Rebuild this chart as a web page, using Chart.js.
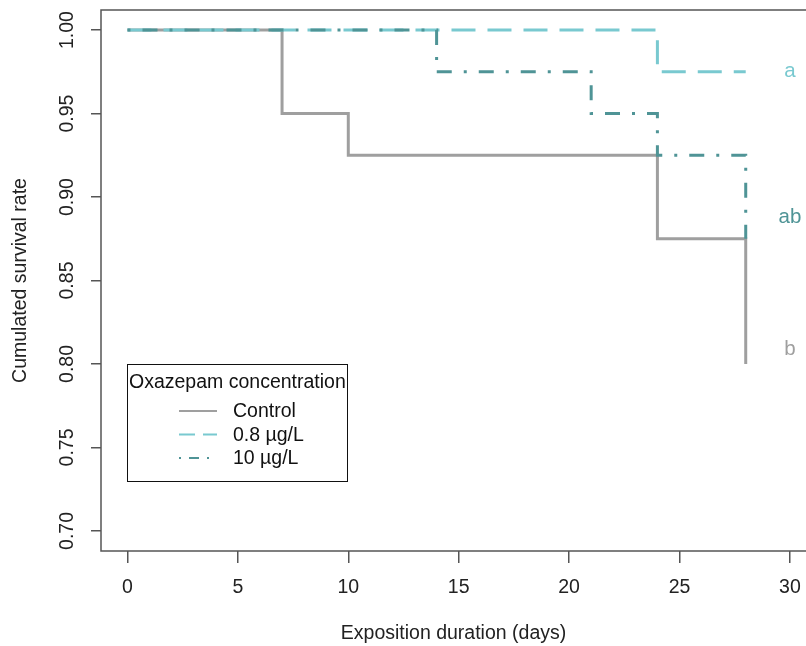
<!DOCTYPE html>
<html>
<head>
<meta charset="utf-8">
<script src="https://cdn.jsdelivr.net/npm/chart.js@4"></script>
<style>
  body { margin: 0; background: #fff; }
  #wrap { width: 806px; height: 646px; }
</style>
</head>
<body>
<div id="wrap"><canvas id="survivalChart" width="806" height="646"></canvas></div>
<script>
// Kaplan-Meier style survival steps (days, survival)
const controlDays = [0, 7, 10, 24, 28];
const controlSurv = [1.0, 0.95, 0.925, 0.875, 0.80];
const lowDays = [0, 24, 28];
const lowSurv = [1.0, 0.975, 0.975];
const highDays = [0, 14, 21, 24, 28];
const highSurv = [1.0, 0.975, 0.95, 0.925, 0.875];

const seriesLabels = ['Control', '0.8 µg/L', '10 µg/L'];
const groupLetters = ['b', 'a', 'ab'];
const letterDay = 30;
const letterSurv = [0.809, 0.975, 0.888];

const xTicks = [0, 5, 10, 15, 20, 25, 30];
const yTicks = [0.70, 0.75, 0.80, 0.85, 0.90, 0.95, 1.00];

const FONT = '"Liberation Sans", Arial, sans-serif';
const FS = 19.5;
const colors = ['#9f9f9f', '#79c9d0', '#4f9496'];
const dashes = [[], [24, 12], [3, 12, 15, 12]];
const legendDashes = [[], [16, 8], [2, 8, 10, 8]];

function toPoints(days, surv) {
    return days.map((d, i) => ({ x: d, y: surv[i] }));
}

// frame, rotated y labels, group letters and the legend box (R base-graphics look)
const decorations = {
    id: 'decorations',
    afterDraw(chart) {
        const ctx = chart.ctx;
        const area = chart.chartArea;
        const xs = chart.scales.x;
        const ys = chart.scales.y;
        ctx.save();

        // box
        ctx.strokeStyle = '#555';
        ctx.lineWidth = 1.5;
        ctx.beginPath();
        ctx.moveTo(chart.width + 2, area.top);
        ctx.lineTo(area.left, area.top);
        ctx.lineTo(area.left, area.bottom);
        ctx.lineTo(chart.width + 2, area.bottom);
        ctx.stroke();

        // y tick labels, rotated
        ctx.fillStyle = '#222';
        ctx.font = FS + 'px ' + FONT;
        ctx.textAlign = 'center';
        ctx.textBaseline = 'middle';
        yTicks.forEach(v => {
            ctx.save();
            ctx.translate(area.left - 33, ys.getPixelForValue(v));
            ctx.rotate(-Math.PI / 2);
            ctx.fillText(v.toFixed(2), 0, 0);
            ctx.restore();
        });

        // significance letters
        ctx.font = '20.5px ' + FONT;
        groupLetters.forEach((t, i) => {
            ctx.fillStyle = colors[i];
            ctx.fillText(t, xs.getPixelForValue(letterDay), ys.getPixelForValue(letterSurv[i]));
        });

        // legend
        const lx = 127, ly = 364, lw = 220, lh = 117;
        ctx.strokeStyle = '#111';
        ctx.lineWidth = 1;
        ctx.strokeRect(lx + 0.5, ly + 0.5, lw, lh);
        ctx.fillStyle = '#111';
        ctx.font = FS + 'px ' + FONT;
        ctx.textAlign = 'left';
        ctx.fillText('Oxazepam concentration', lx + 2, ly + 19);
        seriesLabels.forEach((lab, i) => {
            const y = ly + 47 + i * 23.5;
            ctx.strokeStyle = colors[i];
            ctx.lineWidth = 2;
            ctx.setLineDash(legendDashes[i]);
            ctx.beginPath();
            ctx.moveTo(lx + 52, y);
            ctx.lineTo(lx + 90, y);
            ctx.stroke();
            ctx.setLineDash([]);
            ctx.fillStyle = '#111';
            ctx.fillText(lab, lx + 106, y + 1);
        });
        ctx.restore();
    }
};

const ctx = document.getElementById('survivalChart').getContext('2d');
new Chart(ctx, {
    type: 'line',
    data: {
        datasets: [
            {
                label: seriesLabels[0],
                data: toPoints(controlDays, controlSurv),
                borderColor: colors[0],
                borderDash: dashes[0],
                order: 2
            },
            {
                label: seriesLabels[1],
                data: toPoints(lowDays, lowSurv),
                borderColor: colors[1],
                borderDash: dashes[1],
                order: 1
            },
            {
                label: seriesLabels[2],
                data: toPoints(highDays, highSurv),
                borderColor: colors[2],
                borderDash: dashes[2],
                order: 0
            }
        ].map(d => Object.assign(d, {
            stepped: 'before',
            borderWidth: 3,
            borderCapStyle: 'butt',
            pointRadius: 0,
            fill: false
        }))
    },
    options: {
        responsive: false,
        animation: false,
        layout: { padding: { top: 10, right: 0, left: 0, bottom: 0 } },
        plugins: {
            legend: { display: false },
            tooltip: { enabled: false }
        },
        scales: {
            x: {
                type: 'linear',
                min: -1.2,
                max: 30.73,
                afterBuildTicks: s => { s.ticks = xTicks.map(v => ({ value: v })); },
                afterFit: s => { s.height = 95; s.paddingLeft = 0; s.paddingRight = 0; },
                border: { display: false },
                grid: { drawOnChartArea: false, drawTicks: true, tickLength: 12, color: '#555', lineWidth: 1.5 },
                ticks: {
                    color: '#222',
                    font: { family: FONT, size: FS },
                    padding: 13,
                    maxRotation: 0
                },
                title: {
                    display: true,
                    text: 'Exposition duration (days)',
                    color: '#222',
                    font: { family: FONT, size: FS },
                    padding: { top: 0, bottom: 1 }
                }
            },
            y: {
                type: 'linear',
                min: 0.688,
                max: 1.012,
                afterBuildTicks: s => { s.ticks = yTicks.map(v => ({ value: v })); },
                afterFit: s => { s.width = 101; s.paddingTop = 0; s.paddingBottom = 0; },
                border: { display: false },
                grid: { drawOnChartArea: false, drawTicks: true, tickLength: 10, color: '#555', lineWidth: 1.5 },
                ticks: { display: false },
                title: {
                    display: true,
                    text: 'Cumulated survival rate',
                    color: '#222',
                    font: { family: FONT, size: FS },
                    padding: { top: 9, bottom: 0 }
                }
            }
        }
    },
    plugins: [decorations]
});
</script>
</body>
</html>
